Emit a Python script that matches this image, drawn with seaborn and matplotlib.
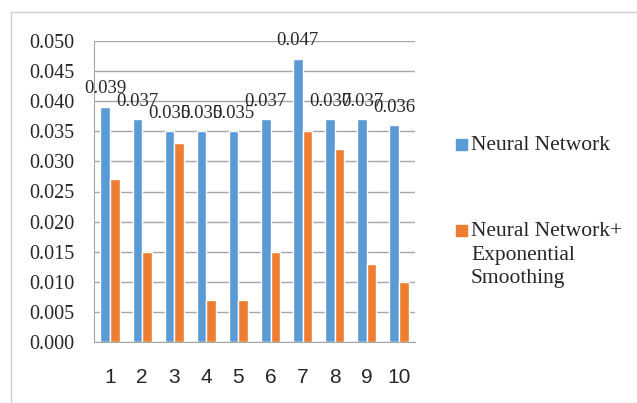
import pandas as pd
import numpy as np
import matplotlib
matplotlib.use('Agg')
import matplotlib.pyplot as plt
import seaborn as sns
from matplotlib.patches import Rectangle

# %%Data

runs = ['1', '2', '3', '4', '5', '6', '7', '8', '9', '10']
nn = [0.039, 0.037, 0.035, 0.035, 0.035, 0.037, 0.047, 0.037, 0.037, 0.036]
nn_es = [0.027, 0.015, 0.033, 0.007, 0.007, 0.015, 0.035, 0.032, 0.013, 0.010]
series = ['Neural Network', 'Neural Network+\nExponential\nSmoothing']
colors = ['#5B9BD5', '#ED7D31']

df = pd.DataFrame({'Run': runs * 2,
                   'Value': nn + nn_es,
                   'Model': [series[0]] * len(runs) + [series[1]] * len(runs)})

# %%Plot

sns.set_style('white')
serif = ['Liberation Serif', 'DejaVu Serif']

W, H = 637, 403
fig = plt.figure(figsize=(W / 100, H / 100), dpi=100)
ax = fig.add_axes([94 / W, 1 - 342 / H, (415 - 94) / W, (342 - 41) / H])

sns.barplot(data=df, x='Run', y='Value', hue='Model',
            palette=colors, width=0.6, gap=0,
            saturation=1, ax=ax, legend=False)

yt = np.arange(0, 0.0501, 0.005)
ax.set_ylim(0, 0.050)
ax.set_xlim(-0.5, 9.5)
ax.set_yticks(yt)
ax.set_yticklabels(['%.3f' % v for v in yt], family=serif, fontsize=14.5)
ax.set_xticks(range(len(runs)))
ax.set_xticklabels(runs, family=['Liberation Sans'], fontsize=15)
ax.set_xticks(np.arange(-0.5, 10, 1), minor=True)
ax.tick_params(axis='x', which='major', length=0, pad=19)
ax.tick_params(axis='x', which='minor', length=7, color='#A6A6A6', width=1)
ax.tick_params(axis='y', which='major', length=5, color='#A6A6A6', width=1, pad=9)
ax.grid(axis='y', color='#A6A6A6', lw=1)
ax.set_axisbelow(True)
ax.set_xlabel('')
ax.set_ylabel('')
for s in ['top', 'right']:
    ax.spines[s].set_visible(False)
for s in ['left', 'bottom']:
    ax.spines[s].set_color('#A6A6A6')

# data labels on the blue bars
ax.bar_label(ax.containers[0], labels=['%.3f' % v for v in nn],
             padding=7, family=serif, fontsize=13.5)

# legend, drawn by hand (square + serif text)
fig.patches.append(Rectangle((456 / W, 1 - 150 / H), 11 / W, 11 / H,
                             transform=fig.transFigure, color=colors[0]))
fig.text(471 / W, 1 - 145 / H, series[0], family=serif, fontsize=15.5, va='center')
fig.patches.append(Rectangle((456 / W, 1 - 236 / H), 11 / W, 11 / H,
                             transform=fig.transFigure, color=colors[1]))
fig.text(471 / W, 1 - 222 / H, series[1], family=serif, fontsize=15.5, va='top',
         linespacing=1.33)

# outer frame
fig.patches.append(Rectangle((11 / W, 0), 1, 1 - 12 / H, transform=fig.transFigure,
                             fill=False, edgecolor='#D0D0D0', lw=1))

plt.savefig('out.png', dpi=100)
